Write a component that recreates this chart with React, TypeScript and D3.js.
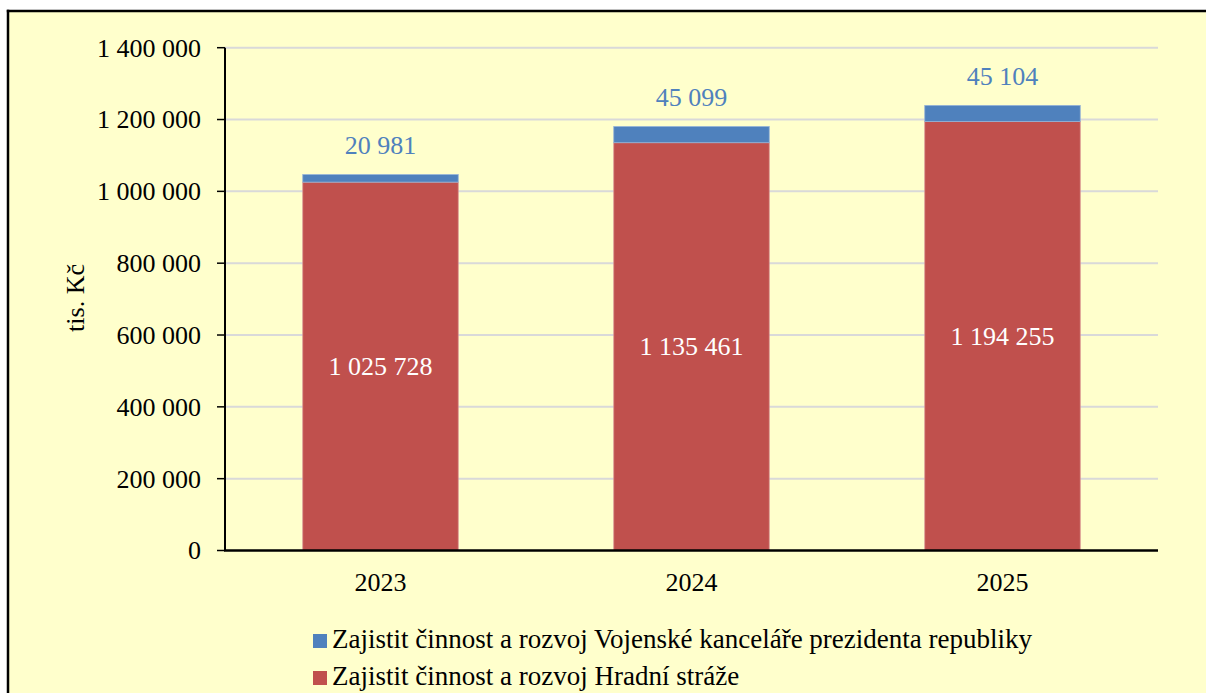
import React from "react";
import * as d3 from "d3";

const years = ["2023", "2024", "2025"];
const hradniStraz = [1025728, 1135461, 1194255];
const vojenskaKancelar = [20981, 45099, 45104];
const yTicks = [0, 200000, 400000, 600000, 800000, 1000000, 1200000, 1400000];
const seriesNames = [
  "Zajistit činnost a rozvoj Vojenské kanceláře prezidenta republiky",
  "Zajistit činnost a rozvoj Hradní stráže",
];

const BLUE = "#4F81BD";
const RED = "#C0504D";
const FONT = "'Liberation Serif', 'Times New Roman', serif";

const fmt = (v: number) =>
  String(v).replace(/\B(?=(\d{3})+(?!\d))/g, " ");

export default function App() {
  const W = 1206;
  const H = 693;
  const left = 225;
  const right = 1158;
  const top = 47.7;
  const bottom = 550.5;

  const x = d3.scaleBand<string>().domain(years).range([left, right]).paddingInner(0.5).paddingOuter(0.25);
  const y = d3.scaleLinear().domain([0, 1400000]).range([bottom, top]);

  return (
    <div style={{ position: "fixed", left: 0, top: 0, width: W, height: H, overflow: "hidden", background: "#fff" }}>
      <svg
        width={W}
        height={H}
        style={{ display: "block", fontFamily: FONT }}
      >
        <rect x={8} y={11} width={W} height={H} fill="#FFFFCC" />
        <line x1={6.8} x2={W} y1={11} y2={11} stroke="#000" strokeWidth={2.5} />
        <line x1={8} x2={8} y1={9.8} y2={H} stroke="#000" strokeWidth={2.5} />
        {yTicks.map((t) => (
          <g key={t}>
            {t > 0 && (
              <line x1={left} x2={right} y1={y(t)} y2={y(t)} stroke="#D9D9D9" strokeWidth={2} />
            )}
            <line x1={217} x2={left} y1={y(t)} y2={y(t)} stroke="#000" strokeWidth={1.5} />
            <text x={201} y={y(t)} dy="0.34em" textAnchor="end" fontSize={26} fill="#000">
              {fmt(t)}
            </text>
          </g>
        ))}
        {years.map((yr, i) => {
          const bx = x(yr)!;
          const bw = x.bandwidth();
          const r0 = y(0);
          const r1 = y(hradniStraz[i]);
          const b1 = y(hradniStraz[i] + vojenskaKancelar[i]);
          return (
            <g key={yr}>
              <rect x={bx} y={r1} width={bw} height={r0 - r1} fill={RED} stroke="#D99694" strokeWidth={0.8} />
              <rect x={bx} y={b1} width={bw} height={r1 - b1} fill={BLUE} stroke="#95B3D7" strokeWidth={0.8} />
              <text x={bx + bw / 2} y={y(hradniStraz[i] / 2)} dy="0.34em" textAnchor="middle" fontSize={26} fill="#fff">
                {fmt(hradniStraz[i])}
              </text>
              <text x={bx + bw / 2} y={b1 - 29} dy="0.34em" textAnchor="middle" fontSize={26} fill={BLUE}>
                {fmt(vojenskaKancelar[i])}
              </text>
              <text x={bx + bw / 2} y={591} textAnchor="middle" fontSize={26} fill="#000">
                {yr}
              </text>
            </g>
          );
        })}
        <line x1={left} x2={left} y1={top} y2={bottom} stroke="#000" strokeWidth={2} />
        <line x1={left - 1} x2={right} y1={bottom} y2={bottom} stroke="#000" strokeWidth={2.5} />
        <text transform={`translate(84, 298) rotate(-90)`} textAnchor="middle" fontSize={26} fill="#000">
          tis. Kč
        </text>
        {seriesNames.map((name, i) => (
          <g key={name}>
            <rect x={313} y={634 + i * 37} width={14} height={14} fill={i === 0 ? BLUE : RED} />
            <text x={332} y={648 + i * 37} fontSize={27} fill="#000">
              {name}
            </text>
          </g>
        ))}
      </svg>
    </div>
  );
}
